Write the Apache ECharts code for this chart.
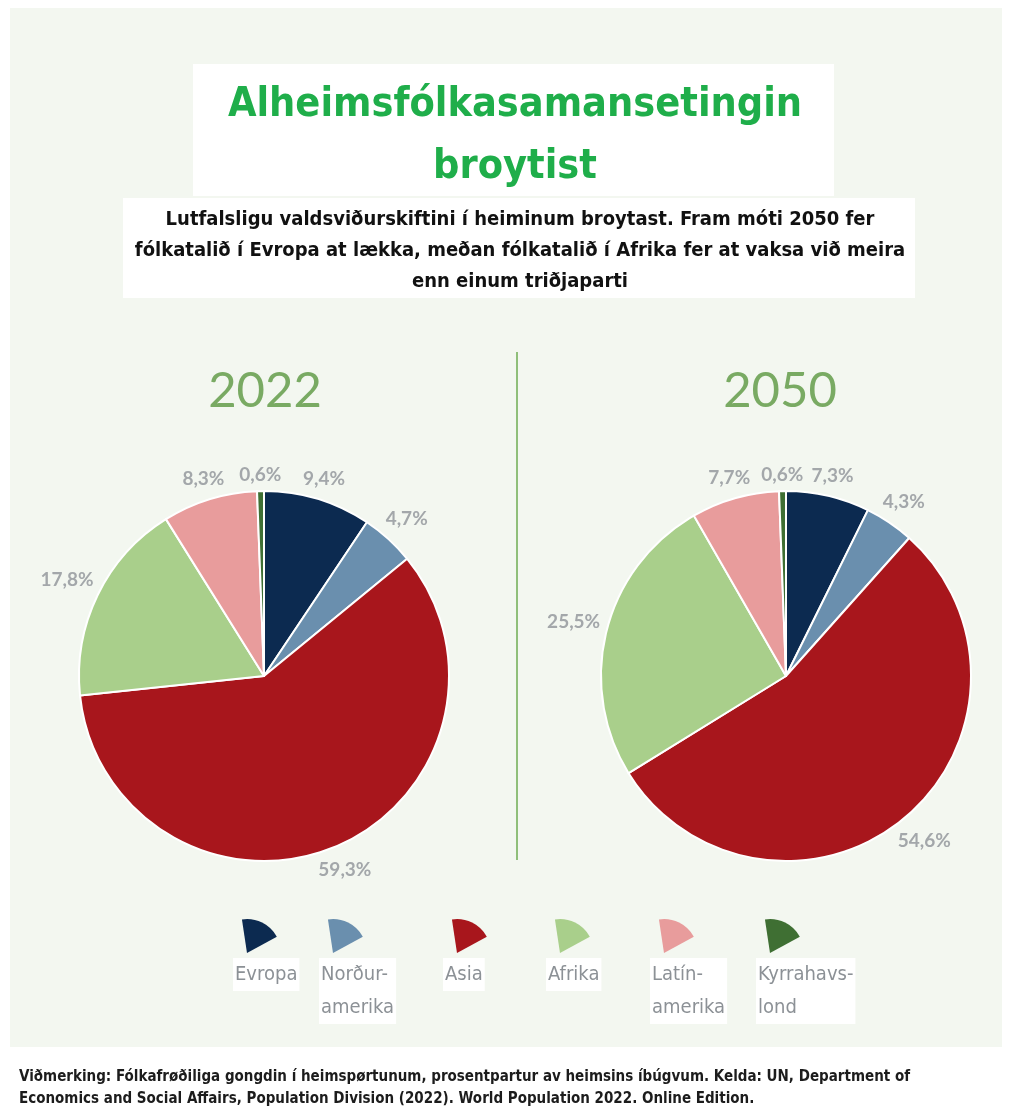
<!DOCTYPE html>
<html>
<head>
<meta charset="utf-8">
<script src="https://cdn.jsdelivr.net/npm/echarts@6/dist/echarts.min.js"></script>
<style>
  html, body { margin: 0; padding: 0; background: #fff; }
  #chart { width: 1009px; height: 1106px; }
</style>
</head>
<body>
<div id="chart"></div>
<script>
// økir og partar av heimsins fólkatali (%)
const regions = ['Evropa', 'Norðuramerika', 'Asia', 'Afrika', 'Latínamerika', 'Kyrrahavslond'];
const legendLabels = ['Evropa', 'Norður-\namerika', 'Asia', 'Afrika', 'Latín-\namerika', 'Kyrrahavs-\nlond'];
const colors = ['#0c2a50', '#6a8fae', '#a8161c', '#a9cf8b', '#e89c9c', '#3f6f33'];
const years = ['2022', '2050'];
const share2022 = [9.4, 4.7, 59.3, 17.8, 8.3, 0.6];
const share2050 = [7.3, 4.3, 54.6, 25.5, 7.7, 0.6];

const narrow = '"Liberation Sans Narrow", "DejaVu Sans Condensed", sans-serif';
const pieR = 185;
const pieCenters = [[264, 676], [786, 676]];
const allShares = [share2022, share2050];

const chart = echarts.init(document.getElementById('chart'));

// label sits just outside the slice, centred on its mid angle
function placeLabel(p) {
    const vals = allShares[p.seriesIndex];
    const total = vals.reduce((a, b) => a + b, 0);
    let before = 0;
    for (let i = 0; i < p.dataIndex; i++) before += vals[i];
    const a = (before + vals[p.dataIndex] / 2) / total * Math.PI * 2;
    const s = Math.sin(a), c = Math.cos(a);
    const hw = p.labelRect.width / 2, hh = p.labelRect.height / 2;
    const d = pieR + 6 + Math.abs(s) * hw + Math.abs(c) * hh;
    const [cx, cy] = pieCenters[p.seriesIndex];
    return { x: cx + d * s, y: cy - d * c, align: 'center', verticalAlign: 'middle' };
}

function pieSeries(name, values, center) {
    return {
        name: name,
        type: 'pie',
        radius: pieR,
        center: center,
        startAngle: 90,
        avoidLabelOverlap: false,
        itemStyle: { borderColor: '#fff', borderWidth: 2 },
        label: {
            show: true,
            position: 'outside',
            fontFamily: 'Lato',
            fontSize: 19,
            fontWeight: 'bold',
            color: '#a3a7aa',
            formatter: p => String(p.value).replace('.', ',') + '%'
        },
        labelLine: { show: false },
        labelLayout: placeLabel,
        emphasis: { disabled: true },
        data: regions.map((r, i) => ({ name: r, value: values[i], itemStyle: { color: colors[i] } }))
    };
}

// legend drawn by hand: wedge icon with the name under it
const legendX = [247, 333, 457, 560, 664, 770];
const legendGraphics = [];
legendLabels.forEach((lbl, i) => {
    legendGraphics.push({
        type: 'sector',
        z: 5,
        shape: { cx: legendX[i], cy: 953, r: 34, r0: 0, startAngle: -1.72, endAngle: -0.5, clockwise: true },
        style: { fill: colors[i] }
    });
    legendGraphics.push({
        type: 'text',
        z: 5,
        left: legendX[i] - 14,
        top: 958,
        style: {
            text: lbl,
            font: '20px ' + narrow,
            fill: '#8c9196',
            lineHeight: 33,
            backgroundColor: '#fff',
            padding: [0, 2, 0, 2]
        }
    });
});

const option = {
    backgroundColor: '#fff',
    title: [
        {
            text: 'Alheimsfólkasamansetingin\nbroytist',
            left: 510,
            top: 69,
            textAlign: 'center',
            textStyle: { fontFamily: narrow, fontSize: 41, fontWeight: 'bold', color: '#1fae4a', lineHeight: 62, align: 'center' }
        },
        {
            text: 'Lutfalsligu valdsviðurskiftini í heiminum broytast. Fram móti 2050 fer\nfólkatalið í Evropa at lækka, meðan fólkatalið í Afrika fer at vaksa við meira\nenn einum triðjaparti',
            left: 515,
            top: 199,
            textAlign: 'center',
            textStyle: { fontFamily: narrow, fontSize: 20, fontWeight: 'bold', color: '#111', lineHeight: 31, align: 'center' }
        },
        {
            text: years[0],
            left: 260,
            top: 362,
            textAlign: 'center',
            textStyle: { fontFamily: 'Lato', fontSize: 49, fontWeight: 'normal', color: '#79aa63' }
        },
        {
            text: years[1],
            left: 775,
            top: 362,
            textAlign: 'center',
            textStyle: { fontFamily: 'Lato', fontSize: 49, fontWeight: 'normal', color: '#79aa63' }
        },
        {
            text: 'Viðmerking: Fólkafrøðiliga gongdin í heimspørtunum, prosentpartur av heimsins íbúgvum. Kelda: UN, Department of\nEconomics and Social Affairs, Population Division (2022). World Population 2022. Online Edition.',
            left: 14,
            top: 1061,
            textStyle: { fontFamily: narrow, fontSize: 15, fontWeight: 'bold', color: '#1c1c1c', lineHeight: 22 }
        }
    ],
    graphic: [
        { type: 'rect', z: -10, shape: { x: 10, y: 8, width: 992, height: 1039 }, style: { fill: '#f3f7f0' } },
        { type: 'rect', z: -5, shape: { x: 193, y: 64, width: 641, height: 132 }, style: { fill: '#fff' } },
        { type: 'rect', z: -5, shape: { x: 123, y: 198, width: 792, height: 100 }, style: { fill: '#fff' } },
        { type: 'line', z: -5, shape: { x1: 517, y1: 352, x2: 517, y2: 860 }, style: { stroke: '#8fbf7a', lineWidth: 2 } }
    ].concat(legendGraphics),
    series: [
        pieSeries(years[0], share2022, pieCenters[0]),
        pieSeries(years[1], share2050, pieCenters[1])
    ]
};

chart.setOption(option);
</script>
</body>
</html>
